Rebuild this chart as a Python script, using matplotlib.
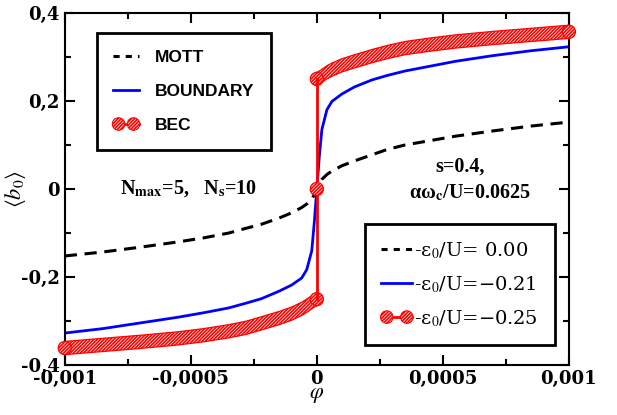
import matplotlib
matplotlib.use('Agg')
import matplotlib.pyplot as plt
from matplotlib.patches import Ellipse
from matplotlib.lines import Line2D
from matplotlib.legend_handler import HandlerBase
from matplotlib.ticker import MultipleLocator, FuncFormatter

# order parameter <b0> vs phi for three eps0/U values
phi = [-0.001, -0.00085, -0.0007, -0.00055, -0.00045, -0.00035, -0.00028, -0.00022,
       -0.00015, -0.0001, -0.00006, -0.00004, -0.00002, -0.00001, 0,
       0.00001, 0.00002, 0.00004, 0.00006, 0.0001, 0.00015, 0.00022, 0.00028,
       0.00035, 0.00045, 0.00055, 0.0007, 0.00085, 0.001]
mott = [-0.152, -0.143, -0.132, -0.120, -0.111, -0.100, -0.089, -0.080,
        -0.066, -0.054, -0.042, -0.034, -0.022, -0.013, 0,
        0.012, 0.022, 0.033, 0.041, 0.053, 0.064, 0.078, 0.090,
        0.100, 0.110, 0.120, 0.132, 0.143, 0.152]
boundary = [-0.327, -0.317, -0.304, -0.291, -0.281, -0.270, -0.259, -0.249,
            -0.232, -0.218, -0.202, -0.183, -0.140, -0.075, 0,
            0.075, 0.135, 0.180, 0.199, 0.216, 0.232, 0.248, 0.258,
            0.268, 0.279, 0.290, 0.303, 0.314, 0.323]

# BEC branch jumps at phi = 0
bec_x_left = [-0.001, -0.00085, -0.0007, -0.00055, -0.00045, -0.00035, -0.00028, -0.00022,
              -0.00015, -0.0001, -0.00006, -0.00004, -0.00002, -0.00001, 0]
bec_y_left = [-0.361, -0.354, -0.347, -0.339, -0.332, -0.323, -0.315, -0.305,
              -0.293, -0.283, -0.272, -0.265, -0.257, -0.253, -0.250]
bec_x_right = [0, 0.00001, 0.00002, 0.00004, 0.00006, 0.0001, 0.00015, 0.00022,
               0.00028, 0.00035, 0.00045, 0.00055, 0.0007, 0.00085, 0.001]
bec_y_right = [0.250, 0.253, 0.257, 0.265, 0.271, 0.281, 0.290, 0.302,
               0.311, 0.320, 0.328, 0.335, 0.343, 0.350, 0.357]
bec_mid = 0.0

labels_phase = ['MOTT', 'BOUNDARY', 'BEC']
labels_eps = ['-ε$_0$/U= 0.00', '-ε$_0$/U=\u22120.21', '-ε$_0$/U=\u22120.25']

plt.rcParams['mathtext.fontset'] = 'stix'
plt.rcParams['hatch.color'] = 'red'
plt.rcParams['hatch.linewidth'] = 1.2

fig = plt.figure(figsize=(6.17, 4.15), dpi=100)
ax = fig.add_axes((0.105, 0.12, 0.817, 0.849))

hw = 0.015          # half width of the hatched band
ew, eh = 0.000052, 0.030
HATCH = '//////////'

ax.plot(phi, mott, color='black', lw=2.2, ls=(0, (4, 2.5)))
ax.plot(phi, boundary, color='blue', lw=2)

for bx, by in ((bec_x_left, bec_y_left), (bec_x_right, bec_y_right)):
    ax.fill_between(bx, [v - hw for v in by], [v + hw for v in by],
                    facecolor='white', edgecolor='red', hatch=HATCH, lw=0.9, zorder=3)
    for xe, ye in ((bx[0], by[0]), (bx[-1], by[-1])):
        ax.add_patch(Ellipse((xe, ye), ew, eh, facecolor='white', edgecolor='red',
                             hatch=HATCH, lw=0.9, zorder=3, clip_on=False))
ax.plot([bec_x_left[-1], bec_x_right[0]], [bec_y_left[-1], bec_y_right[0]],
        color='red', lw=2, zorder=4)
ax.add_patch(Ellipse((0, bec_mid), ew, eh, facecolor='white', edgecolor='red',
                     hatch=HATCH, lw=0.9, zorder=5))

ax.set_xlim(-0.001, 0.001)
ax.set_ylim(-0.4, 0.4)
ax.xaxis.set_major_locator(MultipleLocator(0.0005))
ax.xaxis.set_minor_locator(MultipleLocator(0.00025))
ax.yaxis.set_major_locator(MultipleLocator(0.2))
ax.yaxis.set_minor_locator(MultipleLocator(0.1))


def comma(v, pos):
    if abs(v) < 1e-12:
        return '0'
    return ('%g' % v).replace('.', ',')


ax.xaxis.set_major_formatter(FuncFormatter(lambda v, p: comma(round(v, 6), p)))
ax.yaxis.set_major_formatter(FuncFormatter(lambda v, p: comma(round(v, 3), p)))
ax.tick_params(which='both', direction='in', top=True, right=True, width=1.5)
ax.tick_params(which='major', length=7)
ax.tick_params(which='minor', length=4)
for lab in ax.get_xticklabels() + ax.get_yticklabels():
    lab.set_family('DejaVu Serif')
    lab.set_fontweight('bold')
    lab.set_fontsize(13)
for sp in ax.spines.values():
    sp.set_linewidth(1.5)

ax.set_xlabel('$\\varphi$', fontsize=16, labelpad=-2)
ax.set_ylabel('$\\langle b_0 \\rangle$', fontsize=16)
ax.yaxis.set_label_coords(-0.073, 0.5)

ax.text(-0.00051, 0.0, 'N$_{\\mathbf{max}}$=5,   N$_\\mathbf{s}$=10', fontsize=14.5,
        family='Liberation Serif', fontweight='bold', ha='center', va='center')
ax.text(0.000567, 0.052, 's=0.4,', fontsize=14.5, family='Liberation Serif',
        fontweight='bold', ha='center', va='center')
ax.text(0.000607, -0.009, 'αω$_\\mathbf{c}$/U=0.0625', fontsize=14.5,
        family='Liberation Serif', fontweight='bold', ha='center', va='center')


class BandHandler(HandlerBase):
    def create_artists(self, legend, orig, xd, yd, width, height, fontsize, trans):
        y = height / 2 - yd
        ln = Line2D([-xd, width - xd], [y, y], color='red', lw=2, transform=trans)
        out = [ln]
        for xc in (-xd + 4, width - xd - 4):
            out.append(Ellipse((xc, y), 9, 9, facecolor='white', edgecolor='red',
                               hatch=HATCH, lw=0.8, transform=trans))
        return out


h_mott = Line2D([], [], color='black', lw=2.2, ls=(0, (2, 2)))
h_bnd = Line2D([], [], color='blue', lw=2)
h_bec = Line2D([], [], color='red', lw=2)

leg1 = ax.legend([h_mott, h_bnd, h_bec], labels_phase, loc='upper left',
                 bbox_to_anchor=(0.063, 0.943), borderaxespad=0, fancybox=False,
                 edgecolor='black', framealpha=1, handlelength=1.5, labelspacing=1.1,
                 handletextpad=0.9, borderpad=0.95, handler_map={h_bec: BandHandler()},
                 prop={'family': 'Liberation Sans', 'weight': 'bold', 'size': 12.5})
leg1.get_frame().set_linewidth(2)
ax.add_artist(leg1)

leg2 = ax.legend([h_mott, h_bnd, h_bec], labels_eps, loc='lower left',
                 bbox_to_anchor=(0.595, 0.057), borderaxespad=0, fancybox=False,
                 edgecolor='black', framealpha=1, handlelength=1.6, labelspacing=0.68,
                 handletextpad=0.1, borderpad=0.85, handler_map={h_bec: BandHandler()},
                 prop={'family': 'DejaVu Serif', 'size': 14})
leg2.get_frame().set_linewidth(2)

fig.savefig('out.png', dpi=100)
